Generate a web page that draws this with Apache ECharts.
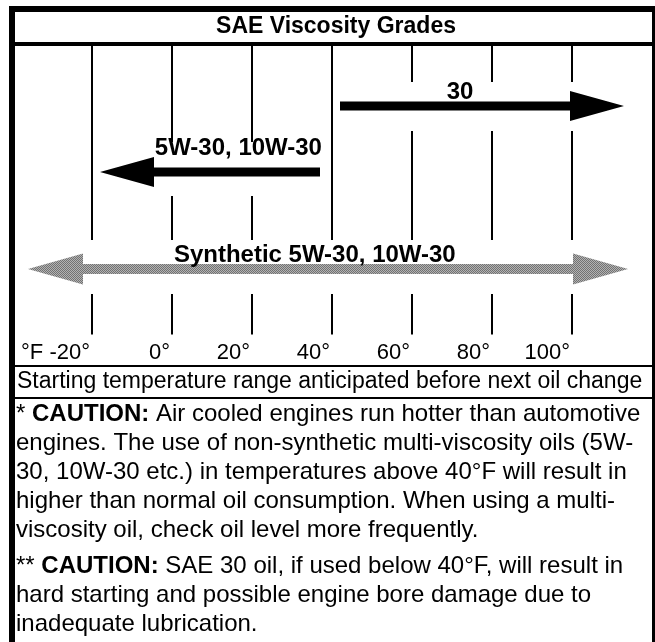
<!DOCTYPE html>
<html><head><meta charset="utf-8">
<script src="https://cdn.jsdelivr.net/npm/echarts@6/dist/echarts.min.js"></script>
<style>html,body{margin:0;padding:0;background:#fff}#c{width:655px;height:642px}</style>
</head><body><div id="c"></div>
<script>
// ---------- data ----------
const tickValues = [-20, 0, 20, 40, 60, 80, 100];
const tickLabels = ['°F -20°', '0°', '20°', '40°', '60°', '80°', '100°'];
const arrowLabels = ['30', '5W-30, 10W-30', 'Synthetic 5W-30, 10W-30'];
const arrowFrom = [42, 37, -36];
const arrowTo = [113, -18, 114];
const arrowDouble = [false, false, true];
const labelAt = [72, 16.6, 35.7];
const titleText = 'SAE Viscosity Grades';
const footText = 'Starting temperature range anticipated before next oil change';
const caution1 = [
  '* {b|CAUTION:} Air cooled engines run hotter than automotive',
  'engines. The use of non-synthetic multi-viscosity oils (5W-',
  '30, 10W-30 etc.) in temperatures above 40°F will result in',
  'higher than normal oil consumption. When using a multi-',
  'viscosity oil, check oil level more frequently.'
];
const caution2 = [
  '** {b|CAUTION:} SAE 30 oil, if used below 40°F, will result in',
  'hard starting and possible engine bore damage due to',
  'inadequate lubrication.'
];

// ---------- layout / style ----------
const FONT = "'Liberation Sans', Arial, Helvetica, sans-serif";
const GRID_TOP = 44, AXIS_Y = 334.5;
const rowY = [62, 128, 225];          // y-axis units (px below grid top)
const gapAbove = [24, 30, 29];
const gapBelow = [25, 24, 25];
const labelLift = [4.5, 15, 5];
const shaftH = [9, 9, 10];
const headLen = [54, 54, 55];
const headHalf = [15, 15, 15.5];
const LABEL_SIZE = 24;

// dithered grey fill like the halftone in the original
function ditherPattern() {
  const c = document.createElement('canvas');
  c.width = 2; c.height = 2;
  const g = c.getContext('2d');
  g.fillStyle = '#727272'; g.fillRect(0, 0, 2, 2);
  g.fillStyle = '#b2b2b2'; g.fillRect(1, 0, 1, 1); g.fillRect(0, 1, 1, 1);
  return {image: c, repeat: 'repeat'};
}
const arrowColor = ['#000', '#000', ditherPattern()];

const chart = echarts.init(document.getElementById('c'), null, {renderer: 'canvas'});

function renderArrow(params, api) {
  const i = params.dataIndex;
  const p0 = api.coord([api.value(0), api.value(2)]);
  const p1 = api.coord([api.value(1), api.value(2)]);
  const y = p0[1];
  const hs = shaftH[i] / 2, hl = headLen[i], hh = headHalf[i];
  let pts;
  if (arrowDouble[i]) {
    const xl = Math.min(p0[0], p1[0]), xr = Math.max(p0[0], p1[0]);
    pts = [[xl, y], [xl + hl, y - hh], [xl + hl, y - hs], [xr - hl, y - hs], [xr - hl, y - hh],
           [xr, y], [xr - hl, y + hh], [xr - hl, y + hs], [xl + hl, y + hs], [xl + hl, y + hh]];
  } else {
    const dir = p1[0] > p0[0] ? 1 : -1;
    const xt = p1[0], xb = p1[0] - dir * hl, xs = p0[0];
    pts = [[xs, y - hs], [xb, y - hs], [xb, y - hh], [xt, y], [xb, y + hh], [xb, y + hs], [xs, y + hs]];
  }
  const lp = api.coord([labelAt[i], api.value(2)]);
  return {
    type: 'group',
    children: [
      {type: 'polygon', shape: {points: pts}, style: {fill: arrowColor[i]}},
      {type: 'text', x: lp[0], y: y - labelLift[i] - LABEL_SIZE * 0.36,
       style: {text: arrowLabels[i], font: 'bold ' + LABEL_SIZE + 'px ' + FONT, fill: '#000',
               align: 'center', verticalAlign: 'middle'}}
    ]
  };
}

function renderTick(params, api) {
  const t = api.value(0);
  const x = Math.round(api.coord([t, 0])[0]);
  const gaps = [];
  for (let i = 0; i < arrowFrom.length; i++) {
    const lo = Math.min(arrowFrom[i], arrowTo[i]), hi = Math.max(arrowFrom[i], arrowTo[i]);
    if (t > lo && t < hi) gaps.push([rowY[i] - gapAbove[i], rowY[i] + gapBelow[i]]);
  }
  gaps.sort((a, b) => a[0] - b[0]);
  const segs = [];
  let cur = 0;
  gaps.forEach(g => { segs.push([cur, g[0]]); cur = g[1]; });
  segs.push([cur, AXIS_Y - GRID_TOP]);
  return {
    type: 'group',
    children: segs.map(s => ({
      type: 'line',
      shape: {x1: x, y1: api.coord([t, s[0]])[1], x2: x, y2: api.coord([t, s[1]])[1]},
      style: {stroke: '#000', lineWidth: 2}
    }))
  };
}

function txt(text, x, y, size, opts) {
  return Object.assign({
    type: 'text', x: x, y: y, z: 10,
    style: Object.assign({
      text: text, font: size + 'px ' + FONT, fill: '#000', align: 'left', verticalAlign: 'middle',
      rich: {b: {fontWeight: 'bold', fontSize: size, fontFamily: FONT, fill: '#000'}}
    }, opts || {})
  });
}
function rect(x, y, w, h) {
  return {type: 'rect', z: 20, shape: {x: x, y: y, width: w, height: h}, style: {fill: '#000'}};
}

const graphics = [
  rect(9, 6, 646, 6),      // top border
  rect(9, 6, 6, 636),      // left border
  rect(652, 6, 3, 636),    // right border
  rect(15, 42, 637, 2),    // title separator
  rect(15, 365, 637, 2),   // under tick labels
  rect(15, 397, 637, 2),   // under footnote
  txt(titleText, 336, 27, 23, {font: 'bold 23px ' + FONT, align: 'center'}),
  txt(footText, 17, 382, 23)
];
caution1.forEach((l, k) => graphics.push(txt(l, 16, 414 + k * 29, 24)));
caution2.forEach((l, k) => graphics.push(txt(l, 16, 566 + k * 29, 24)));

chart.setOption({
  animation: false,
  backgroundColor: '#fff',
  grid: {left: 12, right: 0, top: GRID_TOP, bottom: 642 - AXIS_Y},
  xAxis: {
    type: 'value', min: -40, max: 120, interval: 20,
    axisLine: {show: true, lineStyle: {color: '#000', width: 3}},
    axisTick: {show: false},
    splitLine: {show: false},
    axisLabel: {
      show: true, fontSize: 22, fontFamily: FONT, color: '#000', align: 'right',
      margin: 6, padding: [0, 2, 0, 0], lineHeight: 24,
      showMinLabel: true, showMaxLabel: true,
      formatter: v => { const k = tickValues.indexOf(v); return k >= 0 ? tickLabels[k] : ''; }
    }
  },
  yAxis: {type: 'value', min: 0, max: AXIS_Y - GRID_TOP, inverse: true, show: false},
  series: [
    {type: 'custom', renderItem: renderTick, data: tickValues.map(v => [v]), encode: {x: 0}, clip: false, z: 1},
    {type: 'custom', renderItem: renderArrow,
     data: arrowFrom.map((v, i) => [v, arrowTo[i], rowY[i]]), encode: {x: [0, 1], y: 2}, clip: false, z: 2}
  ],
  graphic: graphics
});
</script></body></html>
